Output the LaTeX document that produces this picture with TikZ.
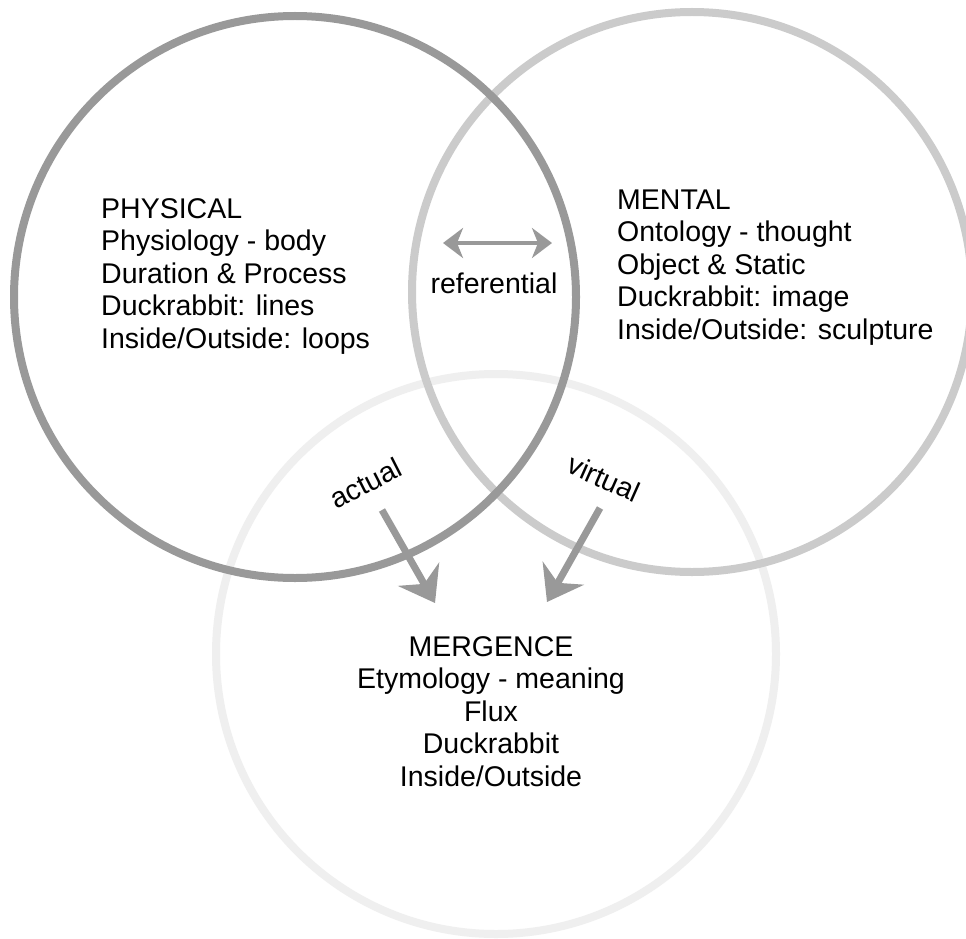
\documentclass[tikz,border=0pt]{standalone}
\usepackage{fontspec}
\setmainfont{Liberation Sans}
\usetikzlibrary{arrows.meta}
\definecolor{ringA}{HTML}{999999}
\definecolor{ringB}{HTML}{CBCBCB}
\definecolor{ringC}{HTML}{EFEFEF}
\definecolor{arrowgray}{HTML}{999999}
\begin{document}
\begin{tikzpicture}[x=1pt,y=-1pt,
  ring/.style={line width=8pt},
  lbl/.style={inner sep=0pt, font=\fontsize{28.5}{32.5}\selectfont, text=black},
  flow/.style={draw=arrowgray, line width=7pt, -{Stealth[length=33pt,width=47pt,inset=11pt]}},
  refarrow/.style={draw=arrowgray, line width=4pt, {Stealth[length=20pt,width=30pt,inset=6pt]}-{Stealth[length=20pt,width=30pt,inset=6pt]}}
]
\useasboundingbox[fill=white] (0,0) rectangle (966,939);
\draw[ring, draw=ringC] (496,654) circle[radius=280];
\draw[ring, draw=ringB] (692,292) circle[radius=280];
\draw[ring, draw=ringA] (295,297) circle[radius=281];

% anchor=base of a multi-line node is the baseline of its last line
\node[lbl, anchor=base west, align=left] (phys) at (101,348) {PHYSICAL\\Physiology - body\\Duration \& Process\\Duckrabbit: lines\\Inside/Outside: loops};
\node[lbl, anchor=base west, align=left] (ment) at (617,339) {MENTAL\\Ontology - thought\\Object \& Static\\Duckrabbit: image\\Inside/Outside: sculpture};
\node[lbl, anchor=base, align=center] (merg) at (491,786) {MERGENCE\\Etymology - meaning\\Flux\\Duckrabbit\\Inside/Outside};
\node[lbl, anchor=base] (ref) at (494,293) {referential};
\node[lbl, rotate=27] (act) at (366,483) {actual};
\node[lbl, rotate=-24] (virt) at (604,478) {virtual};

\coordinate (r1) at (443,243);
\coordinate (r2) at (552,243);
\draw[refarrow] (r1) -- (r2);

\coordinate (a1) at (382,510);
\coordinate (a2) at (435,603);
\draw[flow] (a1) -- (a2);
\coordinate (v1) at (600,508);
\coordinate (v2) at (547,602);
\draw[flow] (v1) -- (v2);
\end{tikzpicture}
\end{document}
